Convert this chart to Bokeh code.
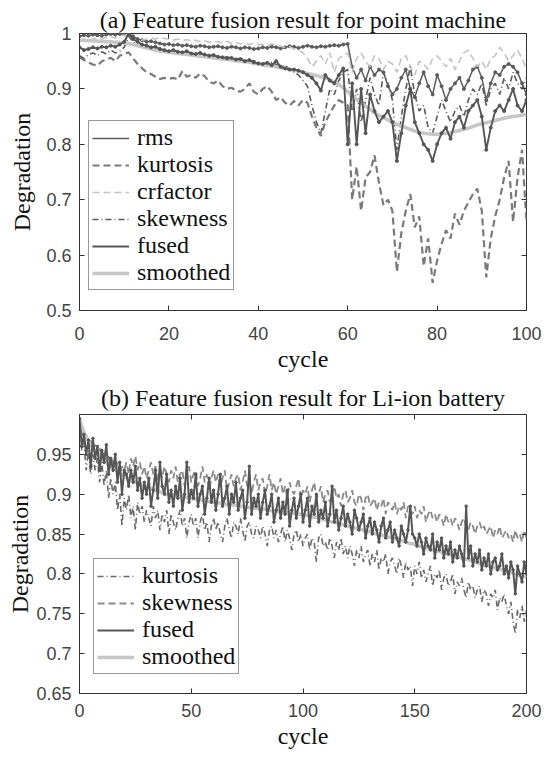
from bokeh.plotting import figure
from bokeh.models import Legend, LegendItem, LinearAxis, FixedTicker, Range1d
from bokeh.layouts import column
from bokeh.embed import file_html
from bokeh.resources import INLINE

# ---------------- data: (a) point machine ----------------
cycle_a = list(range(0, 101))
rms_a = [0.995, 0.997, 0.996, 0.998, 0.997, 0.996, 0.998, 0.999, 0.998, 0.999, 1.0,
         1.0, 0.995, 0.99, 0.988, 0.985, 0.986, 0.984, 0.982, 0.98, 0.981,
         0.979, 0.98, 0.978, 0.979, 0.977, 0.976, 0.978, 0.977, 0.975, 0.976,
         0.977, 0.975, 0.974, 0.976, 0.975, 0.973, 0.975, 0.974, 0.972, 0.973,
         0.975, 0.974, 0.976, 0.975, 0.973, 0.975, 0.977, 0.976, 0.974, 0.976,
         0.978, 0.976, 0.975, 0.977, 0.976, 0.978, 0.979, 0.978, 0.98, 0.981,
         0.94, 0.92, 0.935, 0.915, 0.94, 0.925, 0.935, 0.93, 0.905, 0.89,
         0.9, 0.92, 0.935, 0.9, 0.885, 0.91, 0.93, 0.905, 0.89, 0.925,
         0.905, 0.88, 0.9, 0.91, 0.92, 0.9, 0.915, 0.935, 0.94, 0.92,
         0.88, 0.91, 0.93, 0.925, 0.94, 0.945, 0.94, 0.93, 0.91, 0.89]
kurtosis_a = [0.957, 0.952, 0.948, 0.944, 0.942, 0.95, 0.953, 0.956, 0.95, 0.96, 0.963,
              0.966, 0.955, 0.945, 0.937, 0.93, 0.927, 0.922, 0.918, 0.92, 0.918,
              0.92, 0.917, 0.932, 0.922, 0.925, 0.92, 0.928, 0.923, 0.913, 0.91,
              0.915, 0.905, 0.9, 0.902, 0.897, 0.895, 0.9, 0.91, 0.895, 0.89,
              0.9, 0.905, 0.895, 0.88, 0.885, 0.875, 0.87, 0.878, 0.87, 0.88,
              0.875, 0.85, 0.83, 0.815, 0.84, 0.855, 0.87, 0.88, 0.875, 0.87,
              0.7, 0.76, 0.68, 0.74, 0.75, 0.78, 0.73, 0.69, 0.7, 0.68,
              0.57, 0.64, 0.68, 0.71, 0.65, 0.67, 0.58, 0.63, 0.55, 0.59,
              0.62, 0.645, 0.63, 0.675, 0.655, 0.68, 0.695, 0.71, 0.72, 0.68,
              0.56, 0.63, 0.67, 0.7, 0.74, 0.77, 0.66, 0.74, 0.79, 0.66]
crfactor_a = [0.985, 0.99, 0.988, 0.99, 0.992, 0.99, 0.993, 0.995, 0.992, 0.995, 0.997,
              0.995, 0.99, 0.985, 0.988, 0.99, 0.992, 0.99, 0.993, 0.991, 0.99,
              0.988, 0.99, 0.987, 0.989, 0.986, 0.988, 0.985, 0.987, 0.984, 0.986,
              0.985, 0.983, 0.986, 0.982, 0.984, 0.981, 0.983, 0.98, 0.982, 0.98,
              0.98, 0.978, 0.981, 0.979, 0.977, 0.975, 0.976, 0.972, 0.97, 0.965,
              0.955, 0.94, 0.95, 0.96, 0.945, 0.965, 0.93, 0.955, 0.96, 0.965,
              0.93, 0.955, 0.965, 0.95, 0.94, 0.96, 0.955, 0.935, 0.95, 0.945,
              0.93, 0.955, 0.96, 0.94, 0.925, 0.95, 0.945, 0.935, 0.955, 0.96,
              0.95, 0.94, 0.955, 0.935, 0.95, 0.965, 0.97, 0.955, 0.94, 0.95,
              0.935, 0.955, 0.96, 0.975, 0.965, 0.95, 0.96, 0.97, 0.955, 0.935, 0.92]
skewness_a = [0.96, 0.955, 0.962, 0.965, 0.96, 0.967, 0.963, 0.97, 0.965, 0.968, 0.975,
              0.995, 0.985, 0.978, 0.975, 0.974, 0.972, 0.97, 0.971, 0.968, 0.967,
              0.968, 0.966, 0.965, 0.967, 0.963, 0.962, 0.964, 0.96, 0.959, 0.96,
              0.958, 0.956, 0.958, 0.955, 0.953, 0.955, 0.952, 0.95, 0.951, 0.948,
              0.947, 0.945, 0.948, 0.944, 0.94, 0.943, 0.935, 0.93, 0.925, 0.915,
              0.905, 0.87, 0.84, 0.82, 0.86, 0.9, 0.89, 0.915, 0.93, 0.935,
              0.86, 0.9, 0.84, 0.88, 0.92, 0.89, 0.87, 0.93, 0.91, 0.88,
              0.79, 0.85, 0.9, 0.94, 0.89, 0.86, 0.87, 0.83, 0.82, 0.85,
              0.88, 0.86, 0.84, 0.86, 0.87, 0.85, 0.88, 0.9, 0.89, 0.91,
              0.87, 0.9, 0.91, 0.89, 0.92, 0.9, 0.93, 0.91, 0.9, 0.92, 0.88]
fused_a = [0.975, 0.97, 0.972, 0.975, 0.973, 0.976, 0.975, 0.978, 0.976, 0.98, 0.985,
           1.0, 0.99, 0.985, 0.98, 0.978, 0.975, 0.976, 0.972, 0.97, 0.968,
           0.97, 0.967, 0.966, 0.968, 0.964, 0.963, 0.965, 0.962, 0.96, 0.961,
           0.958, 0.957, 0.955, 0.956, 0.953, 0.954, 0.95, 0.952, 0.948, 0.946,
           0.945, 0.947, 0.943, 0.95, 0.94, 0.937, 0.935, 0.935, 0.933, 0.93,
           0.925, 0.92, 0.91, 0.897, 0.925, 0.915, 0.91, 0.925, 0.937, 0.8,
           0.91, 0.8, 0.9, 0.82, 0.89, 0.86, 0.84, 0.85, 0.86, 0.84,
           0.77, 0.82, 0.87, 0.9, 0.84, 0.82, 0.8, 0.79, 0.77, 0.8,
           0.82, 0.83, 0.81, 0.84, 0.85, 0.83, 0.86, 0.87, 0.88, 0.85,
           0.79, 0.83, 0.86, 0.87, 0.86, 0.88, 0.9, 0.87, 0.86, 0.88, 0.85]
smoothed_a = [0.988, 0.988, 0.987, 0.987, 0.986, 0.986, 0.985, 0.985, 0.984, 0.984, 0.983,
              0.982, 0.98, 0.978, 0.976, 0.974, 0.972, 0.97, 0.968, 0.967, 0.966,
              0.965, 0.964, 0.963, 0.962, 0.961, 0.96, 0.959, 0.958, 0.957, 0.956,
              0.955, 0.954, 0.953, 0.952, 0.951, 0.95, 0.949, 0.948, 0.946, 0.945,
              0.943, 0.942, 0.941, 0.94, 0.938, 0.937, 0.935, 0.933, 0.932, 0.93,
              0.928, 0.926, 0.924, 0.922, 0.92, 0.917, 0.913, 0.908, 0.902, 0.895,
              0.888, 0.881, 0.875, 0.869, 0.863, 0.857, 0.852, 0.848, 0.844, 0.84,
              0.836, 0.833, 0.83, 0.827, 0.824, 0.822, 0.82, 0.819, 0.818, 0.818,
              0.819, 0.82, 0.821, 0.823, 0.825, 0.827, 0.829, 0.832, 0.835, 0.837,
              0.839, 0.841, 0.843, 0.845, 0.847, 0.849, 0.85, 0.851, 0.853, 0.854]
xticks_a = [0, 20, 40, 60, 80, 100]
yticks_a = [0.5, 0.6, 0.7, 0.8, 0.9, 1.0]
ylabels_a = ["0.5", "0.6", "0.7", "0.8", "0.9", "1"]

# ---------------- data: (b) Li-ion battery ----------------
cycle_b = list(range(0, 201))
kurtosis_b = [0.995, 0.955, 0.965, 0.93, 0.955, 0.925, 0.95, 0.93, 0.945, 0.915, 0.94,
              0.91, 0.93, 0.895, 0.92, 0.9, 0.915, 0.88, 0.9, 0.86, 0.895,
              0.88, 0.9, 0.87, 0.885, 0.855, 0.89, 0.875, 0.885, 0.865, 0.88,
              0.87, 0.86, 0.885, 0.87, 0.88, 0.855, 0.875, 0.865, 0.88, 0.85,
              0.875, 0.865, 0.855, 0.87, 0.88, 0.86, 0.87, 0.845, 0.865, 0.875,
              0.86, 0.87, 0.845, 0.865, 0.875, 0.855, 0.865, 0.84, 0.86, 0.87,
              0.855, 0.865, 0.85, 0.84, 0.86, 0.87, 0.855, 0.845, 0.865, 0.86,
              0.85, 0.87, 0.855, 0.84, 0.86, 0.865, 0.85, 0.845, 0.86, 0.855,
              0.845, 0.86, 0.85, 0.835, 0.855, 0.86, 0.845, 0.855, 0.84, 0.85,
              0.86, 0.84, 0.855, 0.845, 0.83, 0.85, 0.855, 0.84, 0.85, 0.835,
              0.845, 0.85, 0.83, 0.845, 0.84, 0.815, 0.845, 0.85, 0.835, 0.84,
              0.83, 0.845, 0.835, 0.82, 0.84, 0.83, 0.845, 0.825, 0.835, 0.82,
              0.835, 0.825, 0.81, 0.83, 0.82, 0.835, 0.815, 0.825, 0.83, 0.81,
              0.825, 0.815, 0.83, 0.805, 0.82, 0.815, 0.825, 0.8, 0.815, 0.82,
              0.81, 0.8, 0.82, 0.81, 0.795, 0.815, 0.805, 0.81, 0.785, 0.81,
              0.8, 0.815, 0.795, 0.805, 0.79, 0.8, 0.81, 0.785, 0.8, 0.795,
              0.805, 0.78, 0.795, 0.8, 0.785, 0.79, 0.8, 0.775, 0.79, 0.785,
              0.795, 0.78, 0.77, 0.79, 0.78, 0.785, 0.77, 0.78, 0.785, 0.765,
              0.78, 0.775, 0.76, 0.775, 0.77, 0.78, 0.755, 0.77, 0.765, 0.775,
              0.76, 0.75, 0.765, 0.74, 0.725, 0.755, 0.745, 0.76, 0.74, 0.755]
skewness_b = [0.995, 0.98, 0.97, 0.975, 0.96, 0.968, 0.955, 0.962, 0.95, 0.958, 0.945,
              0.952, 0.94, 0.948, 0.935, 0.945, 0.93, 0.94, 0.925, 0.935, 0.93,
              0.94, 0.925, 0.945, 0.935, 0.948, 0.93, 0.94, 0.925, 0.935, 0.92,
              0.93, 0.94, 0.925, 0.935, 0.915, 0.93, 0.92, 0.935, 0.925, 0.915,
              0.93, 0.92, 0.935, 0.915, 0.925, 0.93, 0.91, 0.925, 0.935, 0.915,
              0.925, 0.93, 0.91, 0.92, 0.935, 0.915, 0.925, 0.905, 0.92, 0.93,
              0.915, 0.925, 0.91, 0.92, 0.93, 0.905, 0.915, 0.925, 0.91, 0.92,
              0.925, 0.905, 0.915, 0.93, 0.91, 0.92, 0.9, 0.915, 0.925, 0.905,
              0.915, 0.92, 0.9, 0.91, 0.925, 0.905, 0.915, 0.9, 0.91, 0.92,
              0.9, 0.91, 0.895, 0.915, 0.905, 0.9, 0.91, 0.92, 0.895, 0.905,
              0.9, 0.91, 0.89, 0.905, 0.915, 0.895, 0.9, 0.91, 0.89, 0.9,
              0.905, 0.89, 0.9, 0.91, 0.895, 0.9, 0.885, 0.9, 0.905, 0.89,
              0.895, 0.905, 0.89, 0.885, 0.9, 0.895, 0.88, 0.895, 0.9, 0.885,
              0.89, 0.895, 0.88, 0.89, 0.885, 0.895, 0.875, 0.89, 0.885, 0.88,
              0.89, 0.875, 0.885, 0.88, 0.89, 0.87, 0.885, 0.88, 0.875, 0.885,
              0.87, 0.88, 0.875, 0.885, 0.865, 0.875, 0.88, 0.87, 0.875, 0.865,
              0.875, 0.87, 0.86, 0.875, 0.865, 0.87, 0.86, 0.87, 0.865, 0.855,
              0.865, 0.87, 0.86, 0.855, 0.865, 0.86, 0.85, 0.86, 0.865, 0.855,
              0.86, 0.85, 0.855, 0.86, 0.845, 0.855, 0.85, 0.86, 0.845, 0.85,
              0.855, 0.845, 0.85, 0.84, 0.855, 0.845, 0.85, 0.84, 0.855, 0.845]
fused_b = [0.995, 0.96, 0.975, 0.95, 0.968, 0.935, 0.97, 0.945, 0.96, 0.93, 0.955,
           0.94, 0.962, 0.925, 0.945, 0.93, 0.95, 0.915, 0.94, 0.9, 0.93,
           0.925, 0.91, 0.93, 0.915, 0.935, 0.905, 0.92, 0.895, 0.915, 0.9,
           0.92, 0.885, 0.905, 0.93, 0.895, 0.94, 0.91, 0.9, 0.925, 0.89,
           0.905, 0.885, 0.91, 0.895, 0.92, 0.88, 0.9, 0.94, 0.89, 0.905,
           0.895, 0.925, 0.885, 0.9, 0.91, 0.875, 0.895, 0.92, 0.89, 0.905,
           0.88, 0.9, 0.925, 0.885, 0.895, 0.91, 0.875, 0.9, 0.89, 0.915,
           0.88, 0.895, 0.905, 0.87, 0.89, 0.935, 0.875, 0.895, 0.885, 0.9,
           0.87, 0.89, 0.905, 0.875, 0.885, 0.9, 0.865, 0.88, 0.895, 0.87,
           0.89, 0.875, 0.905, 0.86, 0.88, 0.895, 0.87, 0.885, 0.9, 0.865,
           0.88, 0.895, 0.86, 0.885, 0.875, 0.9, 0.865, 0.88, 0.87, 0.89,
           0.86, 0.875, 0.91, 0.865, 0.88, 0.855, 0.87, 0.885, 0.86, 0.875,
           0.865, 0.85, 0.88, 0.87, 0.855, 0.865, 0.875, 0.845, 0.86, 0.87,
           0.85, 0.865, 0.855, 0.84, 0.86, 0.87, 0.845, 0.855, 0.865, 0.84,
           0.855, 0.845, 0.835, 0.86, 0.85, 0.84, 0.855, 0.885, 0.85, 0.845,
           0.835, 0.85, 0.84, 0.825, 0.845, 0.835, 0.83, 0.85, 0.82, 0.84,
           0.83, 0.845, 0.82, 0.835, 0.825, 0.84, 0.815, 0.83, 0.82, 0.835,
           0.825, 0.81, 0.885, 0.82, 0.835, 0.81, 0.825, 0.815, 0.83, 0.805,
           0.82, 0.81, 0.825, 0.8, 0.815, 0.82, 0.805, 0.81, 0.825, 0.8,
           0.81, 0.795, 0.815, 0.805, 0.775, 0.81, 0.8, 0.79, 0.815, 0.8]
smoothed_b = [0.995, 0.985, 0.978, 0.972, 0.967, 0.962, 0.958, 0.954, 0.951, 0.948, 0.945,
              0.942, 0.94, 0.937, 0.935, 0.933, 0.931, 0.929, 0.927, 0.925, 0.923,
              0.921, 0.92, 0.918, 0.917, 0.915, 0.914, 0.913, 0.911, 0.91, 0.909,
              0.908, 0.907, 0.906, 0.905, 0.904, 0.903, 0.902, 0.901, 0.9, 0.9,
              0.899, 0.899, 0.898, 0.898, 0.897, 0.897, 0.896, 0.896, 0.895, 0.895,
              0.894, 0.894, 0.893, 0.893, 0.892, 0.892, 0.891, 0.891, 0.89, 0.89,
              0.889, 0.889, 0.889, 0.888, 0.888, 0.887, 0.887, 0.887, 0.886, 0.886,
              0.885, 0.885, 0.885, 0.884, 0.884, 0.883, 0.883, 0.883, 0.882, 0.882,
              0.881, 0.881, 0.881, 0.88, 0.88, 0.879, 0.879, 0.879, 0.878, 0.878,
              0.877, 0.877, 0.877, 0.876, 0.876, 0.876, 0.875, 0.875, 0.875, 0.874,
              0.874, 0.873, 0.873, 0.872, 0.871, 0.871, 0.87, 0.869, 0.868, 0.868,
              0.867, 0.866, 0.865, 0.865, 0.864, 0.863, 0.862, 0.862, 0.861, 0.86,
              0.859, 0.859, 0.858, 0.857, 0.856, 0.856, 0.855, 0.854, 0.853, 0.853,
              0.852, 0.851, 0.85, 0.85, 0.849, 0.848, 0.847, 0.846, 0.846, 0.845,
              0.844, 0.843, 0.842, 0.842, 0.841, 0.84, 0.839, 0.838, 0.838, 0.837,
              0.836, 0.835, 0.834, 0.834, 0.833, 0.832, 0.831, 0.83, 0.83, 0.829,
              0.828, 0.827, 0.826, 0.826, 0.825, 0.824, 0.823, 0.822, 0.822, 0.821,
              0.82, 0.819, 0.818, 0.818, 0.817, 0.816, 0.815, 0.814, 0.813, 0.813,
              0.812, 0.811, 0.81, 0.809, 0.808, 0.808, 0.807, 0.806, 0.805, 0.804,
              0.803, 0.803, 0.802, 0.801, 0.8, 0.799, 0.798, 0.798, 0.797, 0.796]
xticks_b = [0, 50, 100, 150, 200]
yticks_b = [0.65, 0.7, 0.75, 0.8, 0.85, 0.9, 0.95]
ylabels_b = ["0.65", "0.7", "0.75", "0.8", "0.85", "0.9", "0.95"]

SERIF = "Liberation Serif"
SANS = "Liberation Sans"
AXC = "#333333"


def make_fig(title, xr, yr, xticks, yticks, ylabels, top, bottom, fh, y_standoff,
             x_lab_standoff, x_standoff, t_standoff):
    p = figure(frame_width=447, frame_height=fh, x_range=Range1d(*xr), y_range=Range1d(*yr),
               output_backend="svg", toolbar_location=None, title=title,
               min_border_left=79, min_border_right=20, min_border_top=top, min_border_bottom=bottom)
    p.title.text_font = SERIF
    p.title.text_font_size = "24px"
    p.title.text_font_style = "normal"
    p.title.text_color = "#111111"
    p.title.align = "center"
    p.title.standoff = t_standoff
    p.title.offset = 0
    p.grid.visible = False
    p.outline_line_color = AXC
    p.outline_line_width = 1
    p.background_fill_color = "white"
    p.border_fill_color = "white"
    p.xaxis.ticker = FixedTicker(ticks=xticks)
    p.yaxis.ticker = FixedTicker(ticks=yticks)
    p.yaxis.major_label_overrides = {t: s for t, s in zip(yticks, ylabels)}
    for ax in (p.xaxis, p.yaxis):
        ax.axis_line_color = AXC
        ax.major_tick_line_color = AXC
        ax.major_tick_in = 5
        ax.major_tick_out = 0
        ax.minor_tick_line_color = None
        ax.major_label_text_font = SANS
        ax.major_label_text_font_size = "18px"
        ax.major_label_text_color = "#444444"
        ax.axis_label_text_font = SERIF
        ax.axis_label_text_font_size = "24px"
        ax.axis_label_text_font_style = "normal"
        ax.axis_label_text_color = "#111111"
    p.xaxis.axis_label = "cycle"
    p.yaxis.axis_label = "Degradation"
    p.xaxis.major_label_standoff = x_lab_standoff
    p.xaxis.axis_label_standoff = x_standoff
    p.yaxis.major_label_standoff = 8
    p.yaxis.axis_label_standoff = y_standoff
    # box ticks on top and right (no labels drawn)
    top_ax = LinearAxis(ticker=FixedTicker(ticks=xticks), major_label_text_font_size="1px",
                        major_label_text_color=None,
                        major_tick_in=5, major_tick_out=0, minor_tick_line_color=None,
                        axis_line_color=None, major_tick_line_color=AXC, major_label_standoff=0)
    right_ax = LinearAxis(ticker=FixedTicker(ticks=yticks), major_label_text_font_size="1px",
                          major_label_text_color=None,
                          major_tick_in=5, major_tick_out=0, minor_tick_line_color=None,
                          axis_line_color=None, major_tick_line_color=AXC, major_label_standoff=0)
    p.add_layout(top_ax, "above")
    p.add_layout(right_ax, "right")
    return p


# ---------------- panel (a) ----------------
pa = make_fig("(a) Feature fusion result for point machine", (0, 100), (0.5, 1.0),
              xticks_a, yticks_a, ylabels_a, top=33, bottom=60, fh=277, y_standoff=8,
              x_lab_standoff=16, x_standoff=3, t_standoff=1)

r_rms = pa.line(cycle_a, rms_a, line_color="#5c5c5c", line_width=1.5)
pa.scatter(cycle_a, rms_a, size=3, color="#5c5c5c")
r_kur = pa.line(cycle_a, kurtosis_a, line_color="#7a7a7a", line_width=2.2, line_dash="7 4")
r_crf = pa.line(cycle_a, crfactor_a, line_color="#c4c4c4", line_width=1.6, line_dash="7 4")
r_skw = pa.line(cycle_a, skewness_a, line_color="#5a5a5a", line_width=1.6, line_dash="6 3 1 3")
r_sm = pa.line(cycle_a, smoothed_a, line_color="#c6c6c6", line_width=3.5)
r_fus = pa.line(cycle_a, fused_a, line_color="#555555", line_width=1.9)
pa.scatter(cycle_a, fused_a, size=3, color="#555555")

leg_a = Legend(items=[
    LegendItem(label="rms", renderers=[r_rms]),
    LegendItem(label="kurtosis", renderers=[r_kur]),
    LegendItem(label="crfactor", renderers=[r_crf]),
    LegendItem(label="skewness", renderers=[r_skw]),
    LegendItem(label="fused", renderers=[r_fus]),
    LegendItem(label="smoothed", renderers=[r_sm]),
], location=(9, 20))

# ---------------- panel (b) ----------------
pb = make_fig("(b) Feature fusion result for Li-ion battery", (0, 200), (0.65, 1.0),
              xticks_b, yticks_b, ylabels_b, top=40, bottom=55, fh=279, y_standoff=0,
              x_lab_standoff=10, x_standoff=3, t_standoff=7)

rb_kur = pb.line(cycle_b, kurtosis_b, line_color="#6a6a6a", line_width=1.6, line_dash="6 3 1 3")
rb_skw = pb.line(cycle_b, skewness_b, line_color="#8a8a8a", line_width=1.8, line_dash="7 4")
rb_sm = pb.line(cycle_b, smoothed_b, line_color="#c6c6c6", line_width=3.5)
rb_fus = pb.line(cycle_b, fused_b, line_color="#555555", line_width=2.0)
pb.scatter(cycle_b, fused_b, size=2.5, color="#555555")

leg_b = Legend(items=[
    LegendItem(label="kurtosis", renderers=[rb_kur]),
    LegendItem(label="skewness", renderers=[rb_skw]),
    LegendItem(label="fused", renderers=[rb_fus]),
    LegendItem(label="smoothed", renderers=[rb_sm]),
], location=(14, 19))

for p, leg in ((pa, leg_a), (pb, leg_b)):
    leg.label_text_font = SERIF
    leg.label_text_font_size = "24px"
    leg.label_text_color = "#111111"
    leg.glyph_width = 37
    leg.glyph_height = 22
    leg.label_height = 22
    leg.label_standoff = 8
    leg.spacing = 0
    leg.padding = 3
    leg.margin = 0
    leg.border_line_color = AXC
    leg.border_line_width = 1
    leg.background_fill_color = "white"
    leg.background_fill_alpha = 1.0
    p.add_layout(leg)

layout = column(pa, pb, spacing=0)
open("out.html", "w").write(file_html(layout, INLINE))
